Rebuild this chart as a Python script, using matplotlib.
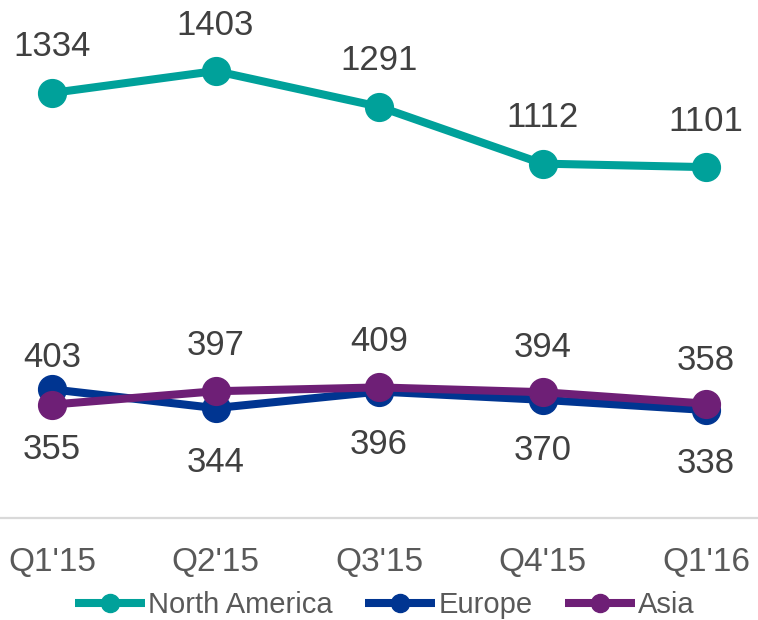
import matplotlib
matplotlib.use("Agg")
import matplotlib.pyplot as plt

plt.rcParams['font.family'] = ['Liberation Sans', 'DejaVu Sans']

categories = ["Q1'15", "Q2'15", "Q3'15", "Q4'15", "Q1'16"]
north_america = [1334, 1403, 1291, 1112, 1101]
europe = [403, 344, 396, 370, 338]
asia = [355, 397, 409, 394, 358]

# label offsets in pixels (vertical, relative to point)
na_offsets = [46, 46, 46, 46, 46]
eu_offsets = [32, -54, -53, -51, -53]
as_offsets = [-45, 46, 46, 45, 43]

colors = {"North America": "#00A19A", "Europe": "#003591", "Asia": "#6E1F76"}

fig = plt.figure(figsize=(7.58, 6.20), dpi=100)
ax = fig.add_axes([0, 1 - 517.6 / 620, 1, (517.6 - 8.3) / 620])

x = list(range(len(categories)))
series = [("North America", north_america, na_offsets),
          ("Europe", europe, eu_offsets),
          ("Asia", asia, as_offsets)]
for name, vals, offs in series:
    ax.plot(x, vals, color=colors[name], lw=5.8, marker='o', markersize=20,
            solid_capstyle='butt', label=name)
    for xi, v, o in zip(x, vals, offs):
        ax.annotate(str(v), (xi, v), xytext=(0, o), textcoords='offset pixels',
                    ha='center', va='center', fontsize=25, color='#404040')

ax.set_xlim(-52 / 163.5, -52 / 163.5 + 758 / 163.5)
ax.set_ylim(0, 1600)
ax.set_xticks(x)
ax.set_xticklabels(categories, fontsize=24, color='#595959')
ax.tick_params(axis='x', length=0, pad=21)
ax.set_yticks([])
for s in ['top', 'right', 'left']:
    ax.spines[s].set_visible(False)
ax.spines['bottom'].set_color('#D9D9D9')
ax.spines['bottom'].set_linewidth(1.6)
ax.patch.set_visible(False)

leg = fig.legend(loc='center', bbox_to_anchor=(385 / 758, 1 - 605 / 620), ncol=3,
                 frameon=False, fontsize=21, handlelength=2.4, handletextpad=0.12,
                 columnspacing=1.1, markerscale=0.65, borderaxespad=0, borderpad=0)
for t in leg.get_texts():
    t.set_color('#595959')

fig.savefig('out.png', dpi=100)
